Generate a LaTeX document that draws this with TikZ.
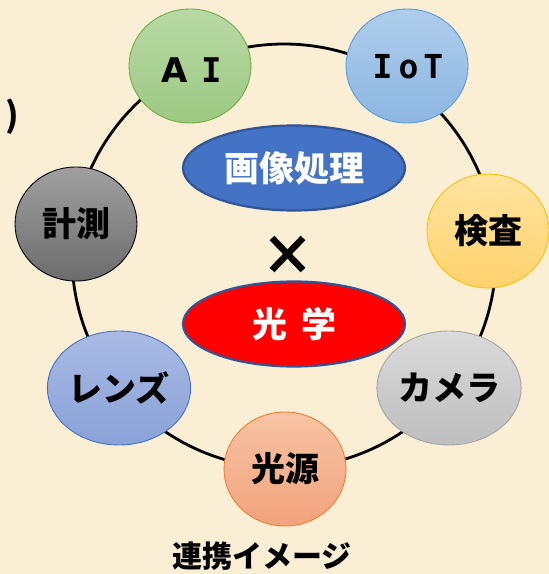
\documentclass[tikz,border=0pt]{standalone}
\usepackage{fontspec}
\setmainfont{Noto Sans CJK JP}
\newfontfamily\monob{DejaVu Sans Mono}
\newfontfamily\sansb{DejaVu Sans}
\usetikzlibrary{shapes.geometric}
\definecolor{bgc}{HTML}{FAEFD5}
\begin{document}
\begin{tikzpicture}[x=1pt,y=-1pt,
  bub/.style={ellipse, minimum width=122pt, minimum height=114pt, inner sep=0pt,
    line width=0.9pt, font=\fontsize{34}{34}\selectfont\bfseries, text=black},
  bigell/.style={ellipse, minimum width=222pt, minimum height=85pt, inner sep=0pt,
    line width=2.2pt, draw={rgb,255:red,47;green,85;blue,151}, text=white,
    font=\fontsize{35}{35}\selectfont\bfseries},
  ring/.style={line width=2.8pt, black}]
\fill[bgc] (0,0) rectangle (549,574);
\useasboundingbox (0,0) rectangle (549,574);
\draw[ring] (284,256) circle[radius=212pt];
\node[bub, top color={rgb,255:red,185;green,217;blue,165}, bottom color={rgb,255:red,156;green,201;blue,131}, draw={rgb,255:red,112;green,173;blue,71}]
  (ai) at (190,66) {};
\node[font=\fontsize{34}{34}\selectfont\bfseries] (aitext) at (192,70) {{\sansb A}\hspace{14pt}{\monob I}};
\node[bub, top color={rgb,255:red,174;green,205;blue,235}, bottom color={rgb,255:red,141;green,182;blue,226}, draw={rgb,255:red,91;green,155;blue,213}]
  (iot) at (407,66) {};
\node[font=\monob\fontsize{33}{33}\selectfont\bfseries] (iottext) at (408,67) {I\hspace{6pt}o\hspace{5pt}T};
\node[bub, top color={rgb,255:red,255;green,228;blue,160}, bottom color={rgb,255:red,255;green,210;blue,110}, draw={rgb,255:red,255;green,192;blue,0}]
  (kensa) at (488,231) {検査};
\node[bub, top color={rgb,255:red,218;green,218;blue,218}, bottom color={rgb,255:red,190;green,190;blue,190}, draw={rgb,255:red,165;green,165;blue,165}]
  (camera) at (449,388) {カメラ};
\node[bub, top color={rgb,255:red,247;green,195;blue,165}, bottom color={rgb,255:red,242;green,163;blue,124}, draw={rgb,255:red,237;green,125;blue,49}]
  (kougen) at (285,469) {光源};
\node[bub, top color={rgb,255:red,170;green,186;blue,228}, bottom color={rgb,255:red,137;green,162;blue,216}, draw={rgb,255:red,68;green,114;blue,196}]
  (lens) at (119,388) {レンズ};
\node[bub, top color={rgb,255:red,160;green,160;blue,160}, bottom color={rgb,255:red,108;green,108;blue,108}, draw=black]
  (keisoku) at (76,224) {計測};
\node[bigell, fill={rgb,255:red,68;green,114;blue,196}] (gazou) at (294,168) {画像処理};
\node[bigell, fill=red] (kougaku) at (294,324) {光\hspace{14pt}学};
\draw[line width=6.5pt] (272,238) -- (303,270);
\draw[line width=6.5pt] (303,238) -- (272,270);
\node[font=\fontsize{30}{30}\selectfont\bfseries] (caption) at (262,556) {連携イメージ};
\node[font=\fontsize{34}{34}\selectfont\bfseries, inner sep=0pt] (paren) at (12,117) {)};
\end{tikzpicture}
\end{document}
